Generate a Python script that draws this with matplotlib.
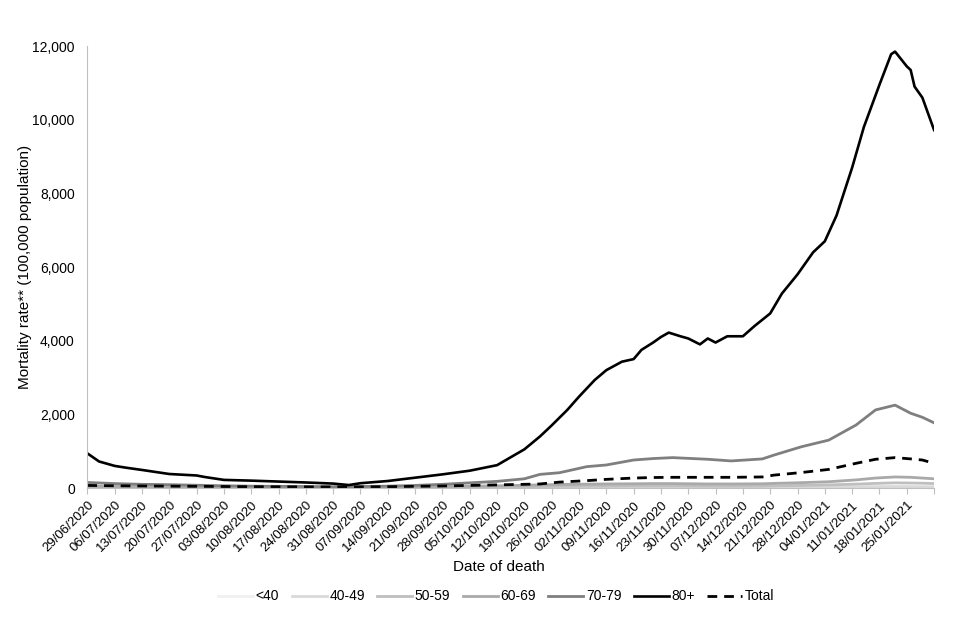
import numpy as np
import pandas as pd
import matplotlib
matplotlib.use("Agg")
import matplotlib.pyplot as plt
from matplotlib.ticker import FuncFormatter

plt.rcParams['font.family'] = ['Liberation Sans', 'DejaVu Sans']

# days since 29/06/2020
days_80 = [0, 3, 7, 10, 14, 21, 28, 30, 35, 42, 49, 56, 63, 67, 70, 77, 84, 91, 98, 105,
           112, 116, 119, 123, 126, 130, 133, 137, 140, 142, 145, 147, 149, 152, 154, 157,
           159, 161, 164, 168, 171, 175, 178, 182, 186, 189, 192, 196, 199, 203, 206, 207,
           210, 211, 212, 214, 217]
age_80 = [940, 720, 600, 550, 490, 380, 340, 300, 220, 200, 175, 150, 120, 80, 130, 190,
          280, 370, 470, 620, 1050, 1400, 1700, 2120, 2480, 2930, 3200, 3430, 3500, 3750,
          3950, 4100, 4220, 4120, 4060, 3900, 4060, 3950, 4120, 4120, 4400, 4740, 5280,
          5800, 6400, 6700, 7400, 8700, 9800, 10950, 11780, 11850, 11450, 11350, 10900,
          10600, 9720]

days = [0, 7, 14, 21, 28, 35, 42, 49, 56, 63, 70, 77, 84, 91, 98, 105, 112, 116, 121, 128,
        133, 140, 145, 150, 159, 165, 173, 176, 183, 190, 197, 202, 207, 211, 214, 217]
age_70 = [150, 120, 100, 90, 75, 60, 50, 45, 40, 35, 40, 50, 70, 100, 140, 180, 250, 370,
          415, 580, 625, 760, 800, 825, 780, 735, 790, 895, 1120, 1300, 1710, 2120, 2250,
          2030, 1920, 1770]
age_60 = [50, 45, 40, 35, 30, 25, 22, 20, 20, 18, 20, 25, 30, 40, 50, 60, 75, 85, 95, 105,
          110, 115, 120, 120, 110, 110, 115, 125, 145, 170, 220, 270, 300, 290, 270, 250]
age_50 = [25, 22, 20, 18, 15, 12, 10, 10, 9, 9, 10, 12, 15, 18, 22, 28, 35, 40, 45, 50,
          52, 55, 55, 55, 50, 50, 52, 60, 70, 85, 105, 125, 140, 135, 130, 120]
age_40 = [10, 9, 8, 7, 6, 5, 5, 4, 4, 4, 4, 5, 6, 7, 8, 10, 13, 15, 17, 19, 20, 21, 21, 21,
          20, 19, 20, 21, 24, 28, 33, 38, 40, 38, 36, 34]
age_u40 = [2, 2, 2, 1, 1, 1, 1, 1, 1, 1, 1, 1, 1, 1, 1, 2, 2, 2, 3, 3, 3, 3, 3, 3, 3, 3, 3,
           3, 3, 4, 4, 5, 5, 5, 5, 4]
total = [70, 60, 55, 50, 45, 40, 35, 32, 30, 28, 30, 35, 45, 55, 70, 85, 100, 110, 160,
         200, 235, 270, 285, 290, 290, 290, 300, 350, 420, 505, 670, 780, 825, 790, 760, 670]

tick_labels = pd.date_range("2020-06-29", periods=31, freq="7D").strftime("%d/%m/%Y")

fig, ax = plt.subplots(figsize=(9.6, 6.4), dpi=100)
fig.subplots_adjust(left=0.091, right=0.973, bottom=0.2375, top=0.928)

ax.plot(days, age_u40, color="#f0f0f0", lw=2, label="<40")
ax.plot(days, age_40, color="#d9d9d9", lw=2, label="40-49")
ax.plot(days, age_50, color="#bfbfbf", lw=2, label="50-59")
ax.plot(days, age_60, color="#a9a9a9", lw=2, label="60-69")
ax.plot(days, age_70, color="#7f7f7f", lw=2, label="70-79")
ax.plot(days_80, age_80, color="black", lw=1.9, label="80+")
ax.plot(days, total, color="black", lw=2, ls=(0, (3.5, 2.5)), label="Total")

ax.set_xlim(0, 217)
ax.set_ylim(0, 12000)
ax.set_yticks(np.arange(0, 12001, 2000))
ax.yaxis.set_major_formatter(FuncFormatter(lambda v, p: f"{int(v):,}"))
ax.set_xticks(np.arange(0, 218, 7))
ax.set_xticklabels(list(tick_labels) + [""], rotation=45, ha="right",
                   rotation_mode="anchor", fontsize=9.5)
ax.tick_params(axis="y", length=0, labelsize=10, pad=9)
ax.tick_params(axis="x", length=4, color="#bfbfbf", pad=4)

for s in ["top", "right"]:
    ax.spines[s].set_visible(False)
ax.spines["left"].set_color("#bfbfbf")
ax.spines["bottom"].set_color("#bfbfbf")

ax.set_ylabel("Mortality rate** (100,000 population)", fontsize=11, labelpad=0)
fig.text(0.52, 0.108, "Date of death", ha="center", fontsize=11)
fig.legend(loc="center", bbox_to_anchor=(0.517, 0.068), ncol=7, frameon=False,
           fontsize=10, handlelength=2.5, columnspacing=0.9, handletextpad=0.2)

fig.savefig("out.png", dpi=100)
